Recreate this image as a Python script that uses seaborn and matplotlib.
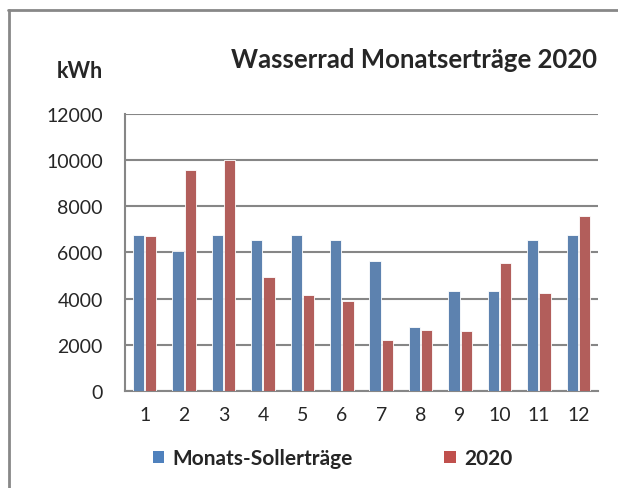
import matplotlib
matplotlib.use("Agg")
import matplotlib.pyplot as plt
from matplotlib.lines import Line2D
from matplotlib.patches import Patch
import pandas as pd
import seaborn as sns

# Monatswerte (kWh)
monate = ["1", "2", "3", "4", "5", "6", "7", "8", "9", "10", "11", "12"]
soll = [6750, 6080, 6750, 6540, 6750, 6540, 5610, 2790, 4350, 4350, 6540, 6750]
ist_2020 = [6700, 9570, 10000, 4940, 4170, 3880, 2190, 2630, 2580, 5540, 4240, 7600]
serien = ["Monats-Sollerträge", "2020"]
farben = ["#4F81BD", "#C0504D"]

df = pd.DataFrame({
    "Monat": monate * 2,
    "Serie": [serien[0]] * 12 + [serien[1]] * 12,
    "kWh": soll + ist_2020,
})

sns.set_style("white")
plt.rcParams["font.family"] = ["Lato", "DejaVu Sans"]

fig = plt.figure(figsize=(6.18, 4.89), dpi=100)
ax = fig.add_axes([0.2023, 0.1984, 0.7653, 0.5664])

sns.barplot(data=df, x="Monat", y="kWh", hue="Serie", order=monate,
            palette=farben, width=0.62, gap=0.08, ax=ax,
            edgecolor="white", linewidth=0.6, legend=False, zorder=3)

ax.set_ylim(0, 12000)
ax.set_yticks(range(0, 12001, 2000))
ax.set_xlim(-0.5, 11.5)
ax.grid(axis="y", color="#868686", linewidth=1.5, zorder=0)
ax.set_axisbelow(True)
for s in ["top", "right"]:
    ax.spines[s].set_visible(False)
for s in ["left", "bottom"]:
    ax.spines[s].set_color("#868686")
    ax.spines[s].set_linewidth(1.5)

ax.set_xticks([i - 0.5 for i in range(13)], minor=True)
ax.tick_params(axis="x", which="major", length=0, labelsize=14, pad=11)
ax.tick_params(axis="x", which="minor", length=5, width=1.5, color="#868686")
ax.tick_params(axis="y", length=5, width=1.5, color="#868686", labelsize=14, pad=11)
ax.set_xlabel("")
ax.set_ylabel("")

fig.text(0.966, 0.877, "Wasserrad Monatserträge 2020", ha="right", va="center",
         fontsize=18.5, fontweight="bold")
fig.text(0.129, 0.853, "kWh", ha="center", va="center", fontsize=15.5, fontweight="bold")

handles = [Patch(facecolor=c, edgecolor="none") for c in farben]
fig.legend(handles, serien, loc="center", bbox_to_anchor=(0.538, 0.061), ncol=2,
           frameon=False, prop={"weight": "bold", "size": 15},
           handlelength=0.55, handleheight=0.55, handletextpad=0.38, columnspacing=4.4)

# Rahmen
fig.add_artist(Line2D([0.014, 0.014], [0.0, 0.977], color="#888888", linewidth=2))
fig.add_artist(Line2D([0.013, 1.0], [0.977, 0.977], color="#888888", linewidth=2))

fig.savefig("out.png", dpi=100)
